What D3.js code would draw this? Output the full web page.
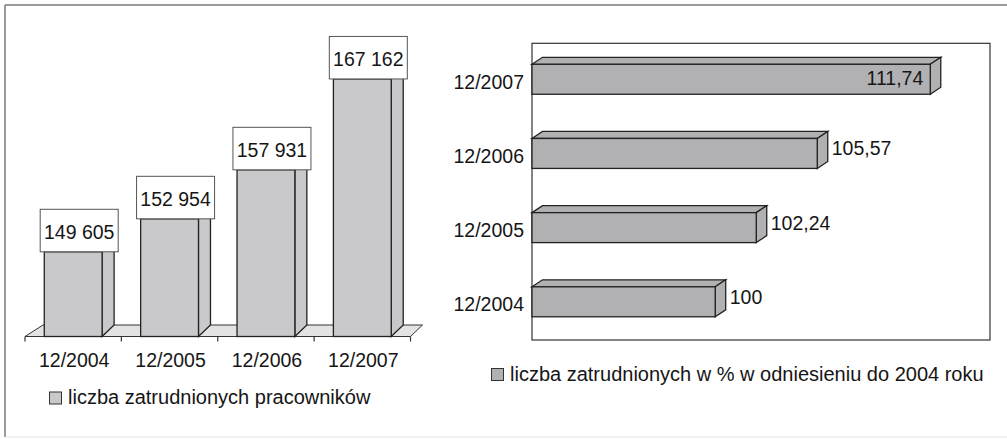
<!DOCTYPE html>
<html>
<head>
<meta charset="utf-8">
<script src="https://cdn.jsdelivr.net/npm/d3@7/dist/d3.min.js"></script>
<style>
  html, body { margin: 0; padding: 0; background: #fff; }
  svg { display: block; font-family: "Liberation Sans", Arial, Helvetica, sans-serif; }
</style>
</head>
<body>
<svg id="chart" width="1007" height="439"></svg>
<script>
// Employment at year end, absolute numbers
const periods = ["12/2004", "12/2005", "12/2006", "12/2007"];
const employees = [149605, 152954, 157931, 167162];
const employeeLabels = ["149 605", "152 954", "157 931", "167 162"];

// Same figures as a percentage of the 2004 level
const percentValues = [100, 102.24, 105.57, 111.74];
const percentLabels = ["100", "102,24", "105,57", "111,74"];

const legendLeft = "liczba zatrudnionych pracowników";
const legendRight = "liczba zatrudnionych w % w odniesieniu do 2004 roku";

const svg = d3.select("#chart");
const FONT = 19.5;
const LEGEND_FONT = 20;
const INK = "#151515";

// outer frame
svg.append("line").attr("x1", 5).attr("y1", 5).attr("x2", 1007).attr("y2", 5)
  .attr("stroke", "#7a7a7a").attr("stroke-width", 1.5);
svg.append("line").attr("x1", 5).attr("y1", 5).attr("x2", 5).attr("y2", 437)
  .attr("stroke", "#7a7a7a").attr("stroke-width", 1.5);
svg.append("line").attr("x1", 5).attr("y1", 437).attr("x2", 1007).attr("y2", 437)
  .attr("stroke", "#e2e2e2").attr("stroke-width", 1);

/* ---------- left: 3D columns ---------- */
const left = svg.append("g");
const xL = d3.scaleBand().domain(periods).range([25, 410.5]).paddingInner(0).paddingOuter(0);
const yL = d3.scaleLinear().domain([141000, 170000]).range([336.5, 51]);
const depthX = 12, depthY = -11.5;
const floorY = yL(141000);
const [fx0, fx1] = xL.range();

// floor plane
left.append("polygon")
  .attr("points", [[fx0, floorY], [fx1, floorY], [fx1 + depthX, floorY + depthY], [fx0 + 18, floorY + depthY]].join(" "))
  .attr("fill", "#e3e3e3").attr("stroke", "#333").attr("stroke-width", 1);

// category ticks at band edges
const edges = periods.map(p => xL(p)).concat([fx1]);
left.selectAll("line.tick").data(edges).join("line")
  .attr("class", "tick")
  .attr("x1", d => d).attr("x2", d => d)
  .attr("y1", floorY).attr("y2", floorY + 5)
  .attr("stroke", "#333").attr("stroke-width", 1.2);

const colW = xL.bandwidth() * 0.6;
const colX = p => xL(p) + xL.bandwidth() * 0.2;
const cols = periods.map((p, i) => ({ p, v: employees[i], label: employeeLabels[i] }));

const colG = left.selectAll("g.col").data(cols).join("g").attr("class", "col");
// side face
colG.append("polygon")
  .attr("points", d => {
    const xr = colX(d.p) + colW, yt = yL(d.v);
    return [[xr, floorY], [xr + depthX, floorY + depthY], [xr + depthX, yt + depthY], [xr, yt]].join(" ");
  })
  .attr("fill", "#c9c9cb").attr("stroke", "#222").attr("stroke-width", 1.3);
// front face
colG.append("rect")
  .attr("x", d => colX(d.p)).attr("y", d => yL(d.v))
  .attr("width", colW).attr("height", d => floorY - yL(d.v))
  .attr("fill", "#c9c9cb").attr("stroke", "#222").attr("stroke-width", 1.3);

// value boxes
const boxW = 78, boxH = 42.5;
const boxG = left.selectAll("g.vbox").data(cols).join("g").attr("class", "vbox");
boxG.append("rect")
  .attr("x", d => colX(d.p) + (colW + depthX) / 2 - boxW / 2)
  .attr("y", d => yL(d.v) - boxH)
  .attr("width", boxW).attr("height", boxH)
  .attr("fill", "#fff").attr("stroke", "#555").attr("stroke-width", 1);
boxG.append("text")
  .attr("x", d => colX(d.p) + (colW + depthX) / 2)
  .attr("y", d => yL(d.v) - boxH / 2 + 1.5)
  .attr("text-anchor", "middle").attr("dominant-baseline", "central")
  .attr("font-size", FONT).attr("fill", INK)
  .text(d => d.label);

// category labels
left.selectAll("text.cat").data(periods).join("text")
  .attr("class", "cat")
  .attr("x", d => xL(d) + xL.bandwidth() / 2 + 1)
  .attr("y", 366.5)
  .attr("text-anchor", "middle")
  .attr("font-size", FONT).attr("fill", INK)
  .text(d => d);

// legend
left.append("rect").attr("x", 49.5).attr("y", 392).attr("width", 12).attr("height", 12)
  .attr("fill", "#c9c9cb").attr("stroke", "#333").attr("stroke-width", 1);
left.append("text").attr("x", 68).attr("y", 403.5)
  .attr("font-size", LEGEND_FONT).attr("fill", INK).text(legendLeft);

/* ---------- right: 3D horizontal bars ---------- */
const right = svg.append("g");
const yR = d3.scaleBand().domain(periods.slice().reverse()).range([43.3, 340]);
const xR = d3.scaleLinear().domain([90, 115]).range([532, 990]);
const hdx = 10.5, hdy = -7;
const barH = yR.bandwidth() * 0.404;
const barY = p => yR(p) + yR.bandwidth() * 0.283;

// plot area frame
right.append("rect")
  .attr("x", xR.range()[0]).attr("y", yR.range()[0])
  .attr("width", xR.range()[1] - xR.range()[0]).attr("height", yR.range()[1] - yR.range()[0])
  .attr("fill", "none").attr("stroke", "#333").attr("stroke-width", 1.2);

const bars = periods.map((p, i) => ({ p, v: percentValues[i], label: percentLabels[i] }));
const x0 = xR(90);
const barG = right.selectAll("g.hbar").data(bars).join("g").attr("class", "hbar");
// top face
barG.append("polygon")
  .attr("points", d => {
    const yt = barY(d.p), xe = xR(d.v);
    return [[x0, yt], [x0 + hdx, yt + hdy], [xe + hdx, yt + hdy], [xe, yt]].join(" ");
  })
  .attr("fill", "#b1b1b3").attr("stroke", "#222").attr("stroke-width", 1.3);
// end face
barG.append("polygon")
  .attr("points", d => {
    const yt = barY(d.p), xe = xR(d.v);
    return [[xe, yt], [xe + hdx, yt + hdy], [xe + hdx, yt + hdy + barH], [xe, yt + barH]].join(" ");
  })
  .attr("fill", "#b1b1b3").attr("stroke", "#222").attr("stroke-width", 1.3);
// front face
barG.append("rect")
  .attr("x", x0).attr("y", d => barY(d.p))
  .attr("width", d => xR(d.v) - x0).attr("height", barH)
  .attr("fill", "#b1b1b3").attr("stroke", "#222").attr("stroke-width", 1.3);

// value labels: the longest one sits inside its bar, the rest past the end face
const maxV = d3.max(percentValues);
barG.append("text")
  .attr("x", d => d.v === maxV ? xR(d.v) - 7 : xR(d.v) + hdx + 4)
  .attr("y", d => barY(d.p) + barH / 2 + (d.v === maxV ? -1 : -5))
  .attr("text-anchor", d => d.v === maxV ? "end" : "start")
  .attr("dominant-baseline", "central")
  .attr("font-size", FONT).attr("fill", INK)
  .text(d => d.label);

// category labels
right.selectAll("text.cat").data(periods).join("text")
  .attr("class", "cat")
  .attr("x", 524)
  .attr("y", d => yR(d) + yR.bandwidth() / 2 + 1.5)
  .attr("text-anchor", "end").attr("dominant-baseline", "central")
  .attr("font-size", FONT).attr("fill", INK)
  .text(d => d);

// legend
right.append("rect").attr("x", 491.5).attr("y", 368.5).attr("width", 12).attr("height", 12)
  .attr("fill", "#b1b1b3").attr("stroke", "#333").attr("stroke-width", 1);
right.append("text").attr("x", 510).attr("y", 381)
  .attr("font-size", LEGEND_FONT).attr("fill", INK).text(legendRight);
</script>
</body>
</html>
